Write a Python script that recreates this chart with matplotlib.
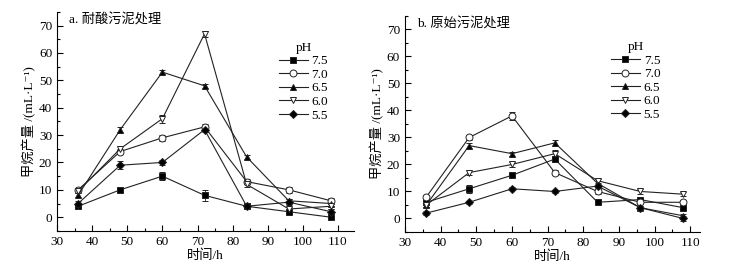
import numpy as np
import matplotlib.pyplot as plt
from matplotlib.ticker import MultipleLocator

plt.rcParams['font.family'] = ['Liberation Serif', 'Noto Sans CJK SC', 'DejaVu Serif']

hours = [36, 48, 60, 72, 84, 96, 108]
ph_labels = ['7.5', '7.0', '6.5', '6.0', '5.5']

# a. acid-tolerant sludge
a_75 = [4, 10, 15, 8, 4, 2, 0]
a_70 = [10, 24, 29, 33, 13, 10, 6]
a_65 = [8, 32, 53, 48, 22, 6, 5]
a_60 = [9.5, 25, 36, 67, 12, 3, 4]
a_55 = [5, 19, 20, 32, 4, 5.5, 2]
a_err = [[0.8, 0.5, 1.5, 2, 1, 0.5, 0.5],
         [0.8, 1, 1, 1, 1, 1, 1],
         [0.8, 1, 0.8, 0.8, 0.8, 0.8, 0.8],
         [0.8, 1, 1.5, 1, 1, 0.8, 1],
         [1, 1.5, 1, 1, 1, 1, 1]]

# b. raw sludge
b_75 = [6, 11, 16, 22, 6, 7, 4]
b_70 = [8, 30, 38, 17, 10, 6, 6]
b_65 = [5, 27, 24, 28, 13, 4, 1]
b_60 = [5, 17, 20, 24, 14, 10, 9]
b_55 = [2, 6, 11, 10, 12, 4, 0]
b_err = [[1, 1.5, 0.8, 1, 0.5, 0.5, 1],
         [0.8, 0.8, 1.5, 0.8, 0.8, 0.8, 0.8],
         [0.8, 0.8, 0.8, 1, 0.8, 0.8, 0.8],
         [0.8, 0.8, 0.8, 1.5, 0.8, 0.8, 0.8],
         [0.8, 0.5, 0.5, 0.5, 0.8, 0.8, 1]]

markers = [('s', 'black'), ('o', 'white'), ('^', 'black'), ('v', 'white'), ('D', 'black')]

fig = plt.figure(figsize=(7.31, 2.71), dpi=100)
ax1 = fig.add_axes([0.078, 0.148, 0.406, 0.808])
ax2 = fig.add_axes([0.554, 0.144, 0.404, 0.797])

panels = [(ax1, [a_75, a_70, a_65, a_60, a_55], a_err, 'a. 耐酸污泥处理', 114.5, (0.72, 0.90)),
          (ax2, [b_75, b_70, b_65, b_60, b_55], b_err, 'b. 原始污泥处理', 112.8, (0.67, 0.92))]

for ax, series, errs, title, xmax, leg_pos in panels:
    for vals, err, lab, (m, fc) in zip(series, errs, ph_labels, markers):
        ms = 4 if m == 'D' else 5
        ax.errorbar(hours, vals, yerr=err, color='#222222', lw=0.8, marker=m, ms=ms,
                    mfc=fc, mec='#222222', mew=0.7, capsize=2, elinewidth=0.6,
                    capthick=0.6, label=lab)
    ax.set_xlim(30, xmax)
    ax.set_ylim(-5, 75)
    ax.xaxis.set_major_locator(MultipleLocator(10))
    ax.xaxis.set_minor_locator(MultipleLocator(5))
    ax.yaxis.set_major_locator(MultipleLocator(10))
    ax.yaxis.set_minor_locator(MultipleLocator(5))
    ax.set_yticks(np.arange(0, 71, 10))
    ax.tick_params(which='both', direction='in', labelsize=9.5, width=0.8)
    ax.tick_params(which='major', length=4)
    ax.tick_params(which='minor', length=2)
    for s in ['top', 'right']:
        ax.spines[s].set_visible(False)
    for s in ['left', 'bottom']:
        ax.spines[s].set_linewidth(0.8)
    ax.set_xlabel('时间/h', fontsize=9.5, labelpad=1)
    ax.set_ylabel('甲烷产量 /(mL·L⁻¹)', fontsize=9.5, labelpad=2)
    ax.text(0.04, 0.965, title, transform=ax.transAxes, fontsize=9.5, va='center', ha='left')
    handles, labels = ax.get_legend_handles_labels()
    handles = [h[0] for h in handles]
    leg = ax.legend(handles, labels, title='pH', loc='upper left', bbox_to_anchor=leg_pos,
                    frameon=False, fontsize=9.5, title_fontsize=9.5, handlelength=2.2,
                    handletextpad=0.3, labelspacing=0.1, borderpad=0.1)

fig.savefig('out.png', dpi=100)
